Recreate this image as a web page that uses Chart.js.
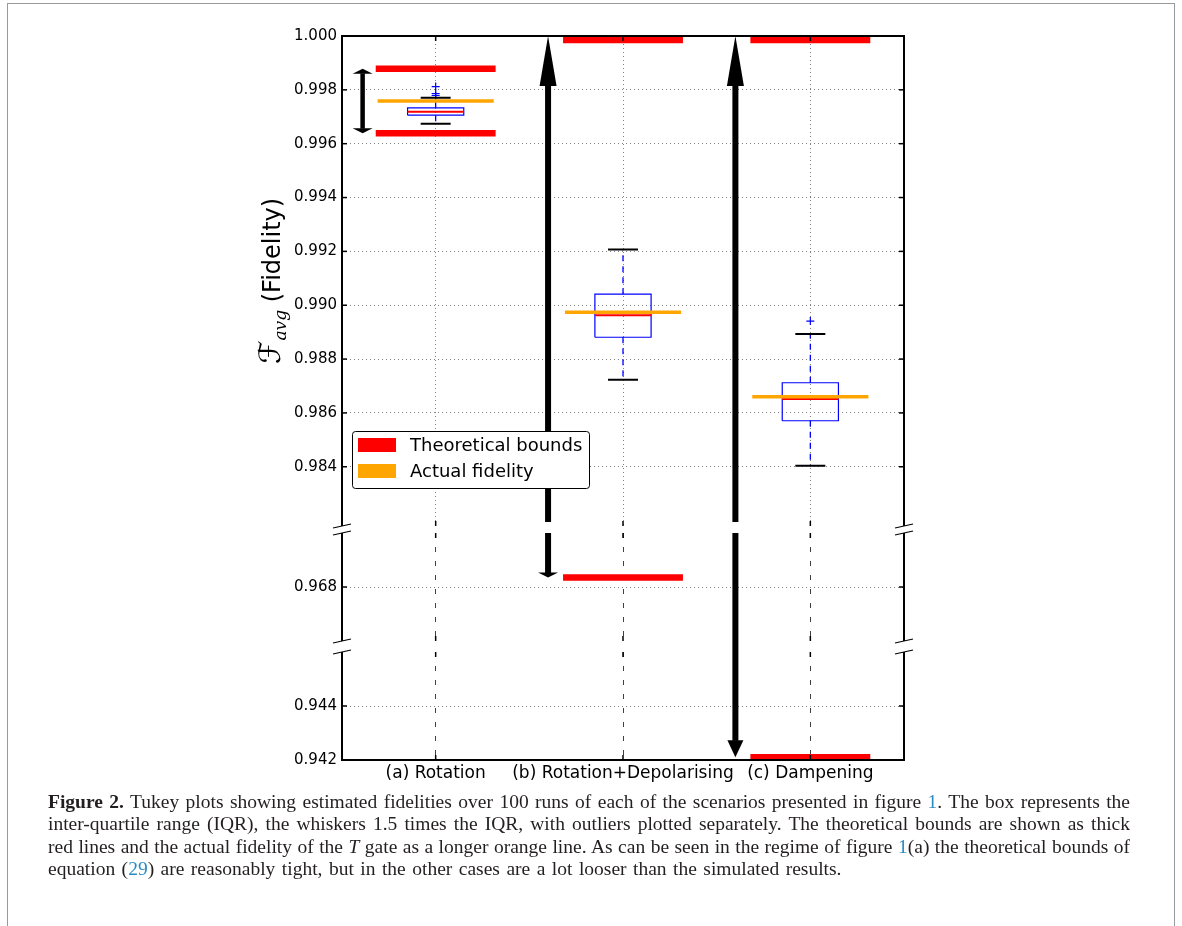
<!DOCTYPE html>
<html lang="en">
<head>
<meta charset="UTF-8">
<title>Figure 2 - Tukey plots of estimated fidelities</title>
<style>
    body {
        margin: 0;
        background: #fff;
    }

    #frame {
        position: absolute;
        left: 7px;
        top: 3px;
        width: 1166px;
        height: 960px;
        border: 1px solid #9a9a9a;
    }

    .panel {
        position: absolute;
        left: 0;
        top: 0;
    }

    #caption {
        position: absolute;
        left: 48px;
        top: 791px;
        width: 1082px;
        font-family: 'Liberation Serif', serif;
        font-size: 19.5px;
        line-height: 22.3px;
        color: #231f20;
    }

    #caption .line {
        text-align: justify;
        text-align-last: justify;
    }

    #caption .last {
        text-align: left;
        text-align-last: left;
        word-spacing: 1.6px;
    }

    .ref {
        color: #2b8cc4;
    }
</style>
</head>
<body>
<div id="frame"></div>
<canvas id="panel0" class="panel" width="1182" height="790"></canvas>
<canvas id="panel1" class="panel" width="1182" height="790"></canvas>
<canvas id="panel2" class="panel" width="1182" height="790"></canvas>
<div id="caption">
    <div class="line"><b>Figure 2.</b> Tukey plots showing estimated fidelities over 100 runs of each of the scenarios presented in figure <span class="ref">1</span>. The box represents the</div>
    <div class="line">inter-quartile range (IQR), the whiskers 1.5 times the IQR, with outliers plotted separately. The theoretical bounds are shown as thick</div>
    <div class="line">red lines and the actual fidelity of the <i>T</i> gate as a longer orange line. As can be seen in the regime of figure <span class="ref">1</span>(a) the theoretical bounds of</div>
    <div class="line last">equation (<span class="ref">29</span>) are reasonably tight, but in the other cases are a lot looser than the simulated results.</div>
</div>

<script src="https://cdn.jsdelivr.net/npm/chart.js"></script>
<script>
    // ---- data ----
    const categories = ['(a) Rotation', '(b) Rotation+Depolarising', '(c) Dampening'];
    const whiskerLow = [0.99674, 0.98723, 0.98404];
    const quartile1 = [0.99706, 0.98881, 0.98571];
    const median = [0.99719, 0.98963, 0.98652];
    const quartile3 = [0.99733, 0.99041, 0.98712];
    const whiskerHigh = [0.99771, 0.99207, 0.98893];
    const outliers = [[0.99812, 0.99786, 0.99779], [], [0.98941]];
    const boundLow = [0.99639, 0.96835, 0.94210];
    const boundHigh = [0.99878, 0.99985, 0.99985];
    const actualFidelity = [0.99759, 0.98974, 0.98660];
    const arrowLow = [0.99639, 0.96835, 0.94210];
    const arrowHigh = [0.99878, 1.000, 1.000];
    const legendLabels = ['Theoretical bounds', 'Actual fidelity'];

    // broken y axis: three panels
    const panelMin = [0.9818, 0.966, 0.942];
    const panelMax = [1.000, 0.970, 0.946];
    const panelTicks = [
        [0.984, 0.986, 0.988, 0.990, 0.992, 0.994, 0.996, 0.998, 1.000],
        [0.968],
        [0.942, 0.944]
    ];

    // ---- layout / style ----
    const W = 1182, H = 790;
    const plotLeft = 342, plotRight = 904;
    const panelTop = [36, 533, 652];
    const panelBottom = [526, 641, 760];
    const xAxisHeight = 30;
    const boxHalf = 0.15, capHalf = 0.08, fidHalf = 0.31, boundHalf = 0.32;
    const arrowStyle = [
        { dx: -0.39, width: 4.5, top: [5, 20], bottom: [5, 20] },
        { dx: -0.40, width: 6, top: [50, 17], bottom: [5, 20] },
        { dx: -0.40, width: 6, top: [50, 17], bottom: [17, 16] }
    ];
    const arrowClipTop = [2, 0, 11];
    const arrowClipBottom = [4, 0, 0];
    const xGridDash = [[1, 3], [5, 9], [5, 9]];
    const xGridColor = ['#808080', '#404040', '#404040'];

    Chart.defaults.font.family = "'DejaVu Sans', sans-serif";
    Chart.defaults.color = '#000';

    // polylines per category, separated by null gaps
    function polylines(fn) {
        const pts = [];
        categories.forEach((c, i) => {
            fn(i, i + 1).forEach(line => {
                line.forEach(p => pts.push({ x: p[0], y: p[1] }));
                pts.push({ x: i + 1, y: null });
            });
        });
        return pts;
    }

    function lineSet(label, data, color, width, extra) {
        return Object.assign({
            label: label,
            data: data,
            showLine: true,
            borderColor: color,
            borderWidth: width,
            pointRadius: 0,
            spanGaps: false,
            fill: false,
            borderCapStyle: 'butt'
        }, extra || {});
    }

    function buildDatasets() {
        const fid = polylines((i, c) => [[[c - fidHalf, actualFidelity[i]], [c + fidHalf, actualFidelity[i]]]]);
        const bounds = polylines((i, c) => [
            [[c - boundHalf, boundHigh[i]], [c + boundHalf, boundHigh[i]]],
            [[c - boundHalf, boundLow[i]], [c + boundHalf, boundLow[i]]]
        ]);
        const med = polylines((i, c) => [[[c - boxHalf, median[i]], [c + boxHalf, median[i]]]]);
        const caps = polylines((i, c) => [
            [[c - capHalf, whiskerHigh[i]], [c + capHalf, whiskerHigh[i]]],
            [[c - capHalf, whiskerLow[i]], [c + capHalf, whiskerLow[i]]]
        ]);
        const boxes = polylines((i, c) => [[
            [c - boxHalf, quartile1[i]], [c + boxHalf, quartile1[i]],
            [c + boxHalf, quartile3[i]], [c - boxHalf, quartile3[i]],
            [c - boxHalf, quartile1[i]]
        ]]);
        const whiskers = polylines((i, c) => [
            [[c, quartile3[i]], [c, whiskerHigh[i]]],
            [[c, quartile1[i]], [c, whiskerLow[i]]]
        ]);
        const fliers = [];
        outliers.forEach((list, i) => list.forEach(v => fliers.push({ x: i + 1, y: v })));

        // first dataset is drawn on top
        return [
            lineSet('Actual fidelity', fid, '#ffa500', 3.5),
            lineSet('Theoretical bounds', bounds, '#ff0000', 6.5),
            lineSet('median', med, '#ff0000', 2),
            lineSet('caps', caps, '#000000', 2),
            {
                label: 'outliers', data: fliers, showLine: false,
                pointStyle: 'cross', pointRadius: 4, borderColor: '#0000ff', borderWidth: 1.2
            },
            lineSet('box', boxes, '#0000ff', 1.2, { borderJoinStyle: 'miter' }),
            lineSet('whiskers', whiskers, '#0000ff', 1.3, { borderDash: [6, 5] })
        ];
    }

    function strokeLine(ctx, x1, y1, x2, y2) {
        ctx.beginPath();
        ctx.moveTo(x1, y1);
        ctx.lineTo(x2, y2);
        ctx.stroke();
    }

    function head(ctx, px, tip, len, width, dir) {
        ctx.beginPath();
        ctx.moveTo(px, tip);
        ctx.lineTo(px - width / 2, tip + dir * len);
        ctx.lineTo(px + width / 2, tip + dir * len);
        ctx.closePath();
        ctx.fill();
    }

    // double arrows between the bounds
    const arrowPlugin = {
        id: 'arrows',
        afterDatasetsDraw(chart, args, opts) {
            const { ctx, chartArea: a, scales: { x, y } } = chart;
            const p = opts.panel;
            ctx.save();
            ctx.beginPath();
            ctx.rect(a.left, a.top - arrowClipTop[p], a.right - a.left,
                a.bottom - a.top + arrowClipTop[p] - arrowClipBottom[p]);
            ctx.clip();
            ctx.fillStyle = '#000';
            categories.forEach((c, i) => {
                if (arrowHigh[i] < y.min || arrowLow[i] > y.max) return;
                const st = arrowStyle[i];
                const px = x.getPixelForValue(i + 1 + st.dx);
                const topIn = arrowHigh[i] <= y.max;
                const botIn = arrowLow[i] >= y.min;
                const yTop = y.getPixelForValue(arrowHigh[i]);
                const yBot = y.getPixelForValue(arrowLow[i]);
                const s0 = topIn ? yTop + st.top[0] - 0.5 : a.top - 20;
                const s1 = botIn ? yBot - st.bottom[0] + 0.5 : a.bottom + 20;
                ctx.fillRect(px - st.width / 2, s0, st.width, s1 - s0);
                if (topIn) head(ctx, px, yTop, st.top[0], st.top[1], 1);
                if (botIn) head(ctx, px, yBot, st.bottom[0], st.bottom[1], -1);
            });
            ctx.restore();
        }
    };

    // matplotlib-like spines, inward ticks and break marks
    const framePlugin = {
        id: 'frame',
        afterDraw(chart, args, opts) {
            const { ctx, chartArea: a, scales: { x, y } } = chart;
            const p = opts.panel;
            ctx.save();
            ctx.strokeStyle = '#000';
            ctx.lineWidth = 1.5;
            y.ticks.forEach(t => {
                const py = y.getPixelForValue(t.value);
                strokeLine(ctx, a.left, py, a.left + 5, py);
                strokeLine(ctx, a.right - 5, py, a.right, py);
            });
            x.ticks.forEach(t => {
                const px = x.getPixelForValue(t.value);
                strokeLine(ctx, px, a.top, px, a.top + 5);
                strokeLine(ctx, px, a.bottom - 5, px, a.bottom);
            });
            ctx.lineWidth = 2;
            strokeLine(ctx, a.left, a.top, a.left, a.bottom);
            strokeLine(ctx, a.right, a.top, a.right, a.bottom);
            if (p === 0) strokeLine(ctx, a.left - 1, a.top, a.right + 1, a.top);
            if (p === 2) strokeLine(ctx, a.left - 1, a.bottom, a.right + 1, a.bottom);
            ctx.lineWidth = 1.2;
            const marks = [];
            if (p > 0) marks.push(a.top);
            if (p < 2) marks.push(a.bottom);
            marks.forEach(my => [a.left, a.right].forEach(mx => strokeLine(ctx, mx - 9, my + 2, mx + 9, my - 2)));
            ctx.restore();
        }
    };

    // legend box and y axis title (top panel only)
    const decorPlugin = {
        id: 'decor',
        afterDraw(chart, args, opts) {
            if (opts.panel !== 0) return;
            const { ctx, chartArea: a } = chart;
            const colors = ['#ff0000', '#ffa500'];
            const bx = a.left + 10, by = a.top + 395, bw = 237, bh = 57;
            ctx.save();
            ctx.fillStyle = '#fff';
            ctx.strokeStyle = '#000';
            ctx.lineWidth = 1;
            ctx.beginPath();
            ctx.roundRect(bx + 0.5, by + 0.5, bw, bh, 3);
            ctx.fill();
            ctx.stroke();
            ctx.font = "18px 'DejaVu Sans'";
            ctx.textBaseline = 'middle';
            legendLabels.forEach((lab, i) => {
                ctx.fillStyle = colors[i];
                ctx.fillRect(bx + 6, by + 7 + i * 26, 38, 14);
                ctx.fillStyle = '#000';
                ctx.fillText(lab, bx + 58, by + 15 + i * 26);
            });
            ctx.restore();

            // y title: script F with subscript avg, then (Fidelity)
            ctx.save();
            ctx.translate(280, (a.top + a.bottom) / 2);
            ctx.rotate(-Math.PI / 2);
            ctx.fillStyle = '#000';
            ctx.textBaseline = 'alphabetic';
            const fFont = "italic 30px 'DejaVu Serif', 'DejaVu Sans'";
            const subFont = "italic 17px 'DejaVu Serif'";
            const mainFont = "24px 'DejaVu Sans'";
            ctx.font = fFont; const wF = ctx.measureText('\u2131').width;
            ctx.font = subFont; const wS = ctx.measureText('avg').width;
            ctx.font = mainFont; const wM = ctx.measureText(' (Fidelity)').width;
            let u = -(wF + wS + wM) / 2;
            ctx.font = fFont; ctx.fillText('\u2131', u, 0); u += wF;
            ctx.font = subFont; ctx.fillText('avg', u, 6); u += wS;
            ctx.font = mainFont; ctx.fillText(' (Fidelity)', u, 0);
            ctx.restore();
        }
    };

    function makePanel(p) {
        const last = p === 2;
        new Chart(document.getElementById('panel' + p), {
            type: 'scatter',
            data: { datasets: buildDatasets() },
            options: {
                responsive: false,
                animation: false,
                devicePixelRatio: 1,
                layout: {
                    padding: {
                        left: 0,
                        right: W - plotRight,
                        top: panelTop[p],
                        bottom: H - panelBottom[p] - (last ? xAxisHeight : 0)
                    }
                },
                scales: {
                    x: {
                        type: 'linear',
                        min: 0.5,
                        max: 3.5,
                        afterBuildTicks: s => { s.ticks = categories.map((c, i) => ({ value: i + 1 })); },
                        afterFit: s => { s.height = last ? xAxisHeight : 0; },
                        grid: { color: xGridColor[p], lineWidth: 1, drawTicks: false },
                        border: { display: false, dash: xGridDash[p] },
                        ticks: {
                            display: last,
                            autoSkip: false,
                            maxRotation: 0,
                            minRotation: 0,
                            padding: 3,
                            font: { size: 17 },
                            callback: v => categories[Math.round(v) - 1]
                        }
                    },
                    y: {
                        type: 'linear',
                        min: panelMin[p],
                        max: panelMax[p],
                        afterBuildTicks: s => { s.ticks = panelTicks[p].map(v => ({ value: v })); },
                        afterFit: s => { s.width = plotLeft; },
                        grid: { color: '#808080', lineWidth: 1, drawTicks: false },
                        border: { display: false, dash: [1, 3] },
                        ticks: {
                            padding: 5,
                            font: { size: 15 },
                            callback: v => v.toFixed(3)
                        }
                    }
                },
                plugins: {
                    legend: { display: false },
                    tooltip: { enabled: false },
                    arrows: { panel: p },
                    frame: { panel: p },
                    decor: { panel: p }
                }
            },
            plugins: [arrowPlugin, framePlugin, decorPlugin]
        });
    }

    [0, 1, 2].forEach(makePanel);
</script>
</body>
</html>
